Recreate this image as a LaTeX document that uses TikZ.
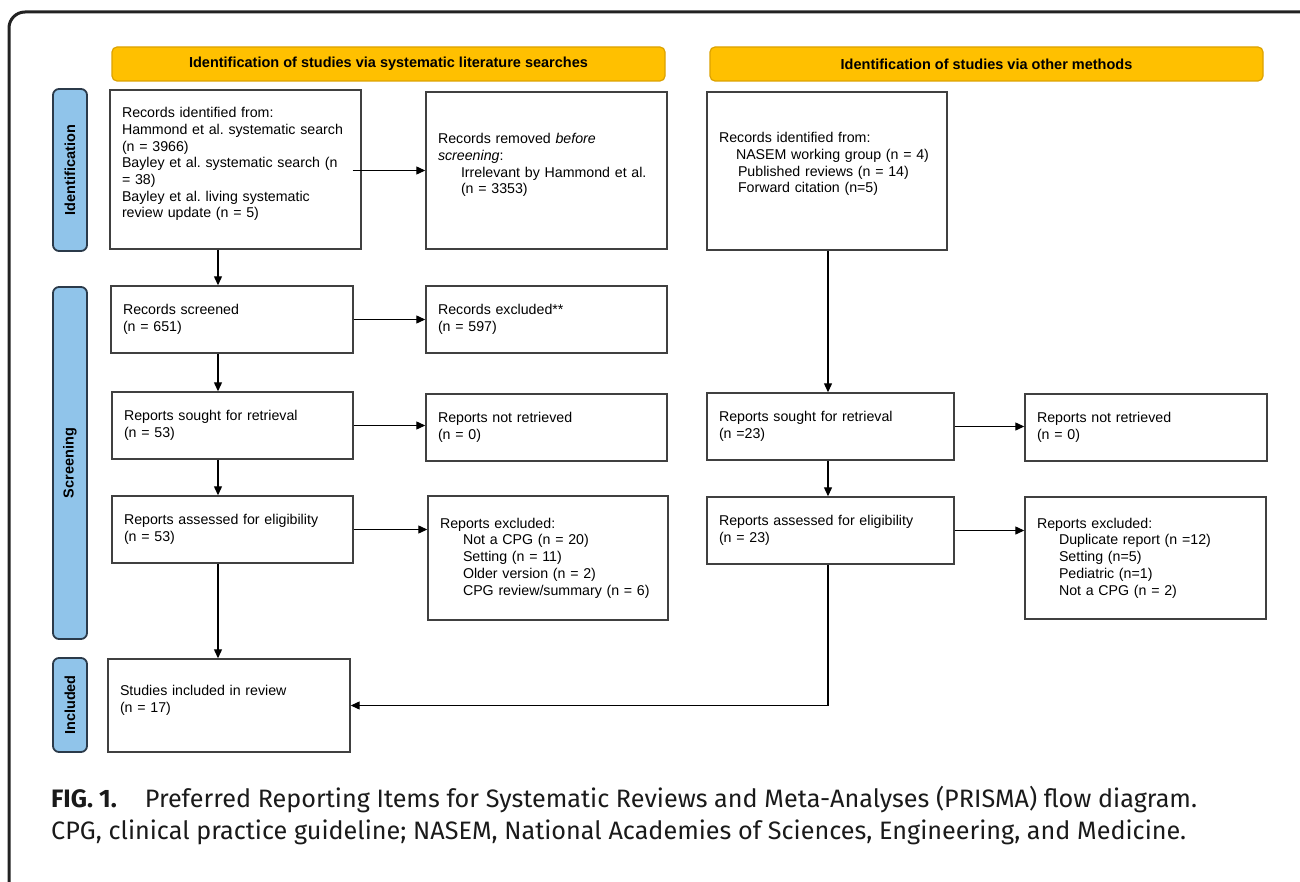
\documentclass[tikz,border=0pt]{standalone}
\usepackage{fontspec}
\setmainfont{Liberation Sans}
\newfontfamily\capfont{Fira Sans}
\usetikzlibrary{arrows.meta}
\definecolor{hdrfill}{HTML}{FFC000}
\definecolor{hdrline}{HTML}{DCA200}
\definecolor{sidefill}{HTML}{90C4EA}
\definecolor{sideline}{HTML}{2B3A4A}
\definecolor{boxline}{HTML}{404040}
\definecolor{framegray}{HTML}{222222}
\definecolor{capgray}{HTML}{1A1A1A}

\begin{document}
\frenchspacing
\begin{tikzpicture}[x=1pt,y=-1pt,
  flowbox/.style={draw=boxline, line width=1.4pt, align=left, inner xsep=12pt, inner ysep=3pt,
    font=\fontsize{14.2}{16.7}\selectfont},
  header/.style={draw=hdrline, fill=hdrfill, line width=1.2pt, rounded corners=5pt,
    minimum width=553, minimum height=34, font=\bfseries\fontsize{14.5}{16}\selectfont},
  phase/.style={draw=sideline, fill=sidefill, line width=1.8pt, rounded corners=6pt, rotate=90,
    minimum height=34, inner sep=0pt, font=\bfseries\fontsize{14.5}{16}\selectfont},
  arr/.style={-{Triangle[length=9pt,width=8pt]}, line width=1.2pt}]
\useasboundingbox (0,0) rectangle (1300,882);

% outer frame
\draw[line width=3pt, framegray, rounded corners=16pt] (9,882) -- (9,12) -- (1300,12);

% phase labels
\node[phase, minimum width=162] (idlab) at (70,170) {Identification};
\node[phase, minimum width=352] (scrlab) at (70,463) {Screening};
\node[phase, minimum width=94] (inclab) at (70,705) {Included};

% headers
\node[header] (hdrL) at (388.5,64) {Identification of studies via systematic literature searches};
\node[header] (hdrR) at (986.5,64) {Identification of studies via other methods};

% left column
\node[flowbox, minimum width=251, minimum height=159, text width=227] (A1) at (235.5,169.5)
  {Records identified from:\\ Hammond et al. systematic search\\ (n = 3966)\\
   Bayley et al. systematic search (n\\ = 38)\\ Bayley et al. living systematic\\
   review update (n = 5)\\[-3pt]\mbox{}};
\node[flowbox, minimum width=241, minimum height=157, text width=217] (A2) at (546.5,170.5)
  {Records removed \textit{before}\\ \textit{screening}:\\
   \hspace*{23pt}Irrelevant by Hammond et al.\\ \hspace*{23pt}(n = 3353)\\[-3pt]\mbox{}};
\node[flowbox, minimum width=242, minimum height=67, text width=218] (S1) at (232,319.5)
  {Records screened\\ (n = 651)};
\node[flowbox, minimum width=241, minimum height=67, text width=217] (S1x) at (546.5,319.5)
  {Records excluded**\\ (n = 597)};
\node[flowbox, minimum width=241, minimum height=67, text width=217] (R1) at (232.5,425.5)
  {Reports sought for retrieval\\ (n = 53)};
\node[flowbox, minimum width=241, minimum height=67, text width=217] (R1x) at (546.5,427.5)
  {Reports not retrieved\\ (n = 0)};
\node[flowbox, minimum width=241, minimum height=67, text width=217] (E1) at (232.5,529.5)
  {Reports assessed for eligibility\\ (n = 53)};
\node[flowbox, minimum width=240, minimum height=124, text width=216] (E1x) at (548,558)
  {Reports excluded:\\ \hspace*{23pt}Not a CPG (n = 20)\\ \hspace*{23pt}Setting (n = 11)\\
   \hspace*{23pt}Older version (n = 2)\\ \hspace*{23pt}CPG review/summary (n = 6)};
\node[flowbox, minimum width=242, minimum height=93, text width=218] (I1) at (229,705.5)
  {Studies included in review\\ (n = 17)\\[-3pt]\mbox{}};

% right column
\node[flowbox, minimum width=240, minimum height=158, text width=216] (B1) at (827,171)
  {Records identified from:\\ \hspace*{17pt}NASEM working group (n = 4)\\
   \hspace*{19pt}Published reviews (n = 14)\\ \hspace*{19pt}Forward citation (n=5)\\ \mbox{}};
\node[flowbox, minimum width=247, minimum height=67, text width=223] (R2) at (830.5,426.5)
  {Reports sought for retrieval\\ (n =23)};
\node[flowbox, minimum width=242, minimum height=67, text width=218] (R2x) at (1146,427.5)
  {Reports not retrieved\\ (n = 0)};
\node[flowbox, minimum width=247, minimum height=67, text width=223] (E2) at (830.5,530.5)
  {Reports assessed for eligibility\\ (n = 23)};
\node[flowbox, minimum width=241, minimum height=122, text width=217] (E2x) at (1145.5,558)
  {Reports excluded:\\ \hspace*{22pt}Duplicate report (n =12)\\ \hspace*{22pt}Setting (n=5)\\
   \hspace*{22pt}Pediatric (n=1)\\ \hspace*{22pt}Not a CPG (n = 2)};

% arrows
\coordinate (colL) at (218,0);
\coordinate (colR) at (828,0);
\draw[arr] ([xshift=-9pt]A1.east |- A2.west) -- (A2.west);
\foreach \a/\b in {S1/S1x,R1/R1x,E1/E1x,R2/R2x,E2/E2x}
  \draw[arr] (\a.east) -- (\a.east -| \b.west);
\foreach \a/\b in {A1/S1,S1/R1,R1/E1,E1/I1}
  \draw[arr] (\a.south -| colL) -- (\b.north -| colL);
\foreach \a/\b in {B1/R2,R2/E2}
  \draw[arr] (\a.south -| colR) -- (\b.north -| colR);
\draw[arr] (E2.south -| colR) |- (I1.east);

% caption
\node[anchor=west, align=left, inner sep=0pt, text=capgray,
  font=\capfont\fontsize{25.2}{32}\selectfont] (cap) at (51,815.5)
  {\textbf{FIG. 1.}\hspace{28pt}Preferred Reporting Items for Systematic Reviews and Meta-Analyses (PRISMA) flow diagram.\\
   CPG, clinical practice guideline; NASEM, National Academies of Sciences, Engineering, and Medicine.};
\end{tikzpicture}
\end{document}
